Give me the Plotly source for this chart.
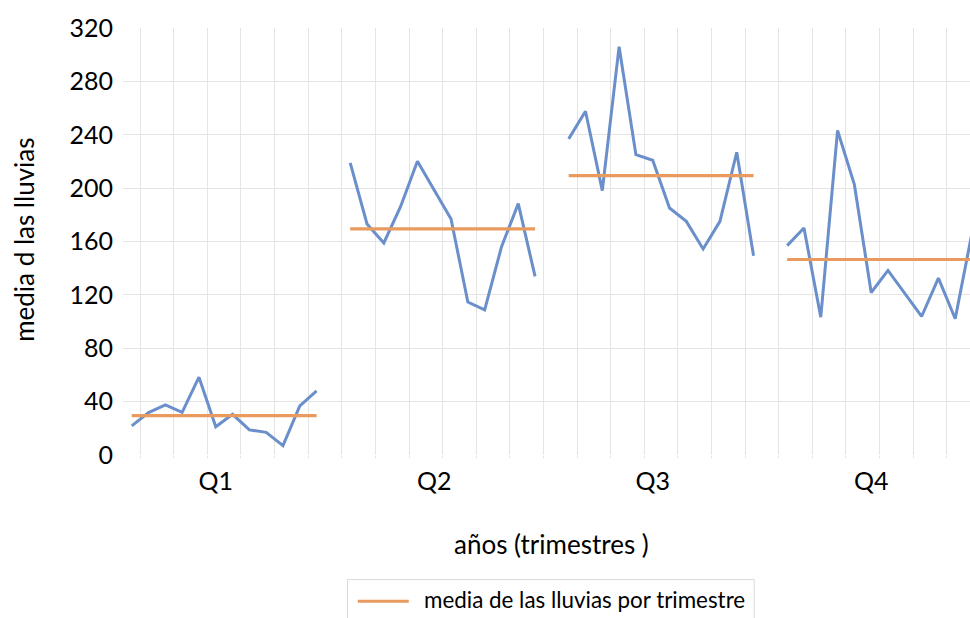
import plotly.graph_objects as go

# ---- data ----
quarters = ["Q1", "Q2", "Q3", "Q4"]
q1_values = [21.8, 31.8, 37.5, 32.0, 58.3, 21.2, 30.5, 18.8, 17.0, 7.0, 36.8, 48.0]
q2_values = [218.9, 173.1, 158.9, 186.3, 220.1, 198.6, 176.9, 114.6, 108.8, 155.9, 188.4, 133.8]
q3_values = [236.9, 257.6, 198.1, 306.0, 225.1, 220.9, 185.1, 175.1, 154.4, 175.1, 226.9, 149.3]
q4_values = [156.9, 170.1, 103.3, 243.2, 202.6, 121.8, 138.3, 121.3, 103.8, 132.6, 102.1, 166.5]
quarter_means = [29.5, 169.4, 209.3, 146.5]

series = [q1_values, q2_values, q3_values, q4_values]
slots_per_quarter = 13  # 12 years + one empty slot

BLUE = "#6A8FCA"
ORANGE = "#E99A5E"
GRID = "#E4E4E4"
FONT = "Lato"

FIG_W, FIG_H = 970, 618
# Plot area in pixels
L, R, T, B = 123.3, 970.0, 27.5, 455.2
W, H = R - L, B - T


def px(x):
    return (x - L) / W


def py(y):
    return (B - y) / H


fig = go.Figure()

for qi, vals in enumerate(series):
    xs = [qi * slots_per_quarter + j for j in range(len(vals))]
    fig.add_trace(go.Scatter(
        x=xs, y=vals, mode="lines",
        line=dict(color=BLUE, width=3),
        showlegend=False, hoverinfo="skip",
    ))
    fig.add_trace(go.Scatter(
        x=xs, y=[quarter_means[qi]] * len(vals), mode="lines",
        line=dict(color=ORANGE, width=3.2),
        name="media de las lluvias por trimestre",
        showlegend=False, hoverinfo="skip",
    ))

label_pos = [qi * slots_per_quarter + 5 for qi in range(len(quarters))]
grid_pos = [0.5 + 2 * k for k in range(26)]

fig.update_layout(
    width=FIG_W, height=FIG_H,
    margin=dict(l=L, r=FIG_W - R, t=T, b=FIG_H - B, pad=0),
    paper_bgcolor="white", plot_bgcolor="white",
    font=dict(family=FONT, color="#000000"),
    showlegend=False,
    xaxis=dict(
        range=[-0.52, 49.88],
        tickmode="array", tickvals=label_pos, ticktext=quarters,
        showgrid=False, zeroline=False, showline=False, ticks="",
        tickfont=dict(size=25, family=FONT, color="#000000"),
        ticklabelstandoff=9,
        minor=dict(tickmode="array", tickvals=grid_pos, showgrid=True,
                   gridcolor=GRID, gridwidth=1, ticks="outside", ticklen=2,
                   tickcolor=GRID, tickwidth=1),
    ),
    yaxis=dict(
        range=[0, 320],
        tickmode="linear", tick0=0, dtick=40,
        showgrid=False, zeroline=False, showline=False, ticks="",
        tickfont=dict(size=25, family=FONT, color="#000000"),
        ticklabelstandoff=9,
        minor=dict(tickmode="array", tickvals=[40, 80, 120, 160, 200, 240, 280],
                   showgrid=True, gridcolor=GRID, gridwidth=1),
    ),
    annotations=[
        dict(text="media d las lluvias", textangle=-90,
             xref="paper", yref="paper", x=px(24), y=py(240),
             xanchor="center", yanchor="middle", showarrow=False,
             font=dict(size=26, family=FONT, color="#000000")),
        dict(text="años (trimestres )",
             xref="paper", yref="paper", x=px(551.7), y=py(544),
             xanchor="center", yanchor="middle", showarrow=False,
             font=dict(size=26, family=FONT, color="#000000")),
        dict(text="media de las lluvias por trimestre",
             xref="paper", yref="paper", x=px(421.7), y=py(600),
             xanchor="left", yanchor="middle", showarrow=False,
             font=dict(size=22.4, family=FONT, color="#000000")),
    ],
    shapes=[
        dict(type="rect", xref="paper", yref="paper",
             x0=px(347.7), x1=px(754.3), y0=py(580), y1=py(640),
             line=dict(color="#D9D9D9", width=1), fillcolor="white", layer="below"),
        dict(type="line", xref="paper", yref="paper",
             x0=px(358), x1=px(409), y0=py(601.7), y1=py(601.7),
             line=dict(color=ORANGE, width=3)),
    ],
)

fig.write_html(
    "out.html",
    config={"displayModeBar": False},
    post_script="document.body.style.margin='0';document.body.style.overflow='hidden';",
)
